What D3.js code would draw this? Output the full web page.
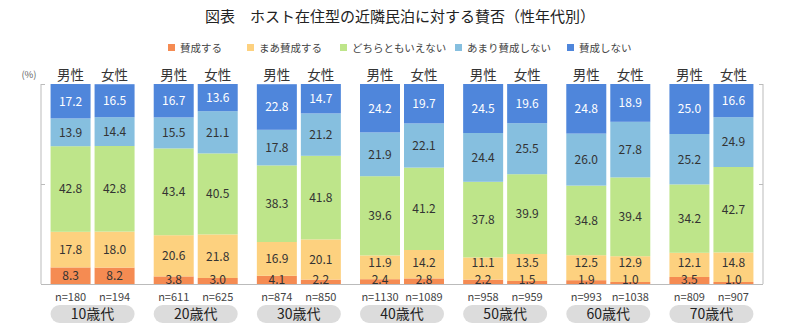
<!DOCTYPE html>
<html><head><meta charset="utf-8">
<script src="https://cdn.jsdelivr.net/npm/d3@7"></script>
<style>
body{margin:0;background:#fff;}
svg{display:block;font-family:"Noto Sans CJK JP","Noto Sans",sans-serif;}
</style></head>
<body><svg id="c" width="800" height="330"></svg>
<script>
const ages = ["10歳代","20歳代","30歳代","40歳代","50歳代","60歳代","70歳代"];
const genders = ["男性","女性"];
const nValues = [180,194,611,625,874,850,1130,1089,958,959,993,1038,809,907];
const seriesNames = ["賛成する","まあ賛成する","どちらともいえない","あまり賛成しない","賛成しない"];
const sanseiSuru = [8.3,8.2,3.8,3.0,4.1,2.2,2.4,2.8,2.2,1.5,1.9,1.0,3.5,1.0];
const maaSansei = [17.8,18.0,20.6,21.8,16.9,20.1,11.9,14.2,11.1,13.5,12.5,12.9,12.1,14.8];
const dochiramo = [42.8,42.8,43.4,40.5,38.3,41.8,39.6,41.2,37.8,39.9,34.8,39.4,34.2,42.7];
const amariSansei = [13.9,14.4,15.5,21.1,17.8,21.2,21.9,22.1,24.4,25.5,26.0,27.8,25.2,24.9];
const sanseiShinai = [17.2,16.5,16.7,13.6,22.8,14.7,24.2,19.7,24.5,19.6,24.8,18.9,25.0,16.6];
const colors = ["#F58B52","#FDD17F","#BEE58A","#86BFDF","#4F86DB"];
const textColors = ["#333","#333","#333","#333","#fff"];

const allSeries = [sanseiSuru, maaSansei, dochiramo, amariSansei, sanseiShinai];
const rows = [];
ages.forEach((a,i)=>genders.forEach((g,j)=>{
  const k = i*2+j;
  const r = {age:a, gender:g, n:nValues[k]};
  seriesNames.forEach((s,si)=>r[s]=allSeries[si][k]);
  rows.push(r);
}));

const svg = d3.select("#c");
const pLeft = 41, pRight = 763, pTop = 84, pBottom = 284;
const xG = d3.scaleBand().domain(ages).range([pLeft,pRight]);
const groupInner = 84;
const xS = d3.scaleBand().domain(genders).range([0,groupInner]).paddingInner(0.0909);
const off = (xG.bandwidth()-groupInner)/2;
const y = d3.scaleLinear().domain([0,100]).range([pBottom,pTop]);

// title
svg.append("text").attr("x",400).attr("y",22).attr("text-anchor","middle")
  .attr("font-size",15).attr("fill","#222").text("図表　ホスト在住型の近隣民泊に対する賛否（性年代別）");

// legend
const legX = [168,247,340,455,567];
const leg = svg.append("g");
seriesNames.forEach((s,i)=>{
  leg.append("rect").attr("x",legX[i]).attr("y",44).attr("width",7).attr("height",7).attr("fill",colors[i]);
  leg.append("text").attr("x",legX[i]+12).attr("y",51.5).attr("font-size",10.5).attr("fill","#444").text(s);
});

// axes
const axL = svg.append("g").attr("transform",`translate(${pLeft},0)`)
  .call(d3.axisRight(y).tickValues([0,50,100]).tickSize(4).tickFormat(""));
const axR = svg.append("g").attr("transform",`translate(${pRight},0)`)
  .call(d3.axisLeft(y).tickValues([0,50,100]).tickSize(4).tickFormat(""));
[axL,axR].forEach(a=>{a.selectAll("path").attr("stroke","#bbb").attr("d",`M0,${pTop}V${pBottom}`);a.selectAll("line").attr("stroke","#bbb");});

svg.append("text").attr("x",29).attr("y",78).attr("text-anchor","middle").attr("font-size",9.5).attr("fill","#666").text("(%)");

// bars
const stack = d3.stack().keys(seriesNames);
const stacked = stack(rows);
const bx = d => xG(d.data.age)+off+xS(d.data.gender);
stacked.forEach((layer,li)=>{
  svg.append("g").selectAll("rect").data(layer).join("rect")
    .attr("x",bx).attr("width",xS.bandwidth())
    .attr("y",d=>y(d[1])).attr("height",d=>y(d[0])-y(d[1]))
    .attr("fill",colors[li]);
});

// bottom axis line
svg.append("line").attr("x1",pLeft).attr("x2",pRight).attr("y1",pBottom+0.5).attr("y2",pBottom+0.5).attr("stroke","#bbb");

// value labels (on top of all bars)
const lowY = 279.5;
stacked.forEach((layer,li)=>{
  svg.append("g").selectAll("text").data(layer).join("text")
    .attr("x",d=>bx(d)+xS.bandwidth()/2)
    .attr("y",d=>{
      const c = (y(d[0])+y(d[1]))/2;
      if (li===0) return Math.min(c, lowY);
      if (li===1) return Math.min(c, lowY-17);
      return c;
    })
    .attr("dy","0.36em").attr("text-anchor","middle").attr("font-size",12)
    .attr("fill",textColors[li]).text(d=>(d[1]-d[0]).toFixed(1));
});

// gender labels and n labels
rows.forEach(r=>{
  const cx = xG(r.age)+off+xS(r.gender)+xS.bandwidth()/2;
  svg.append("text").attr("x",cx).attr("y",75).attr("dy","0.36em").attr("text-anchor","middle")
    .attr("font-size",13.5).attr("fill","#333").text(r.gender);
  svg.append("text").attr("x",cx).attr("y",297).attr("dy","0.36em").attr("text-anchor","middle")
    .attr("font-size",11).attr("fill","#444").text("n="+r.n);
});

// age pills
ages.forEach(a=>{
  const cx = xG(a)+xG.bandwidth()/2;
  svg.append("rect").attr("x",cx-42).attr("y",305).attr("width",84).attr("height",18).attr("rx",9)
    .attr("fill","#dcdcdc");
  svg.append("text").attr("x",cx).attr("y",314).attr("dy","0.36em").attr("text-anchor","middle")
    .attr("font-size",14).attr("fill","#222").text(a);
});
</script></body></html>
